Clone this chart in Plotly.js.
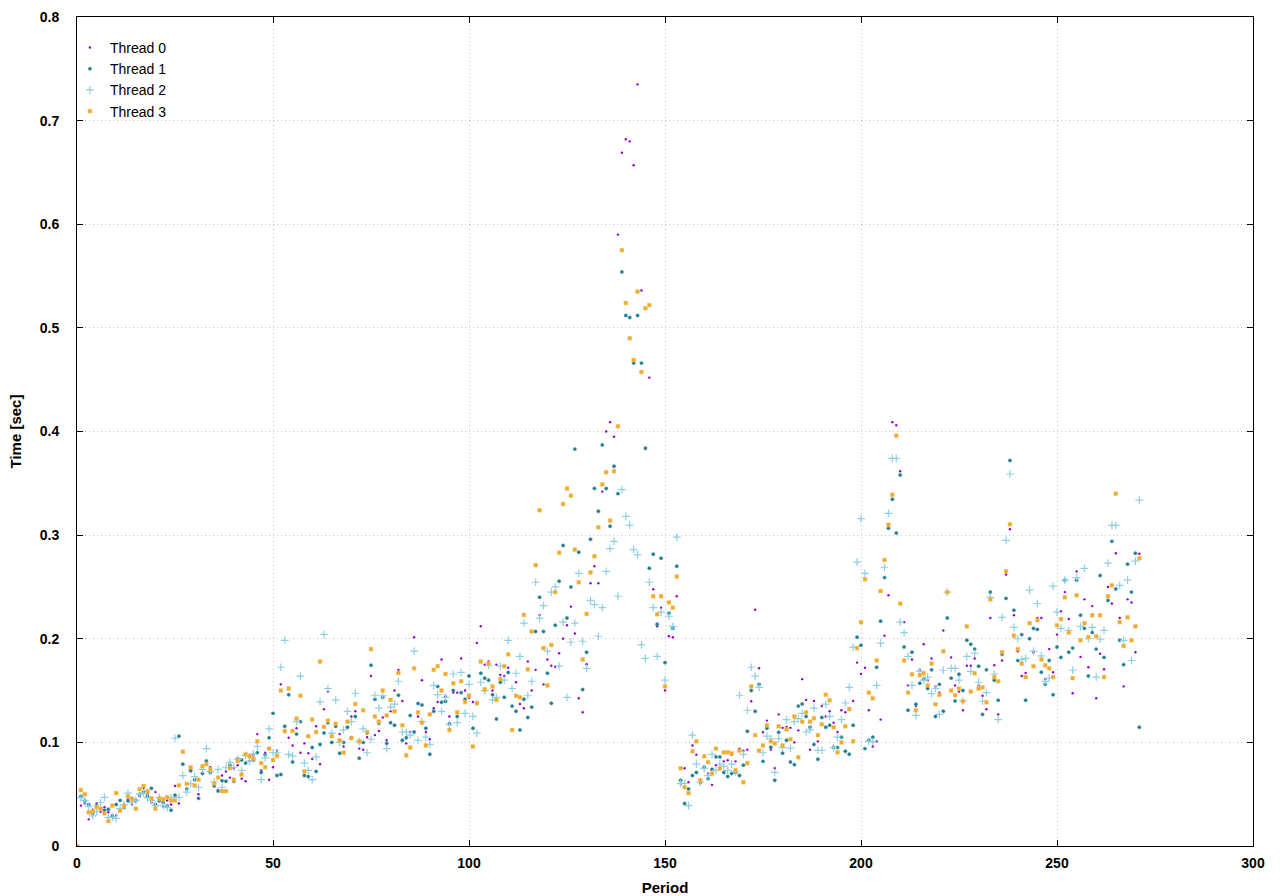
<!DOCTYPE html>
<html>
<head>
<meta charset="utf-8">
<script src="https://cdn.plot.ly/plotly-3.0.1.min.js"></script>
<style>html,body{margin:0;padding:0;background:#fff;}#chart{width:1280px;height:896px;}</style>
</head>
<body>
<div id="chart"></div>
<script>
var periods = [];
for (var i = 0; i <= 271; i++) periods.push(i);

var thread0 = [0,
.039,.041,.0257,.035,.041,.033,.0375,.0325,.030,.0295,
.034,.040,.045,.040,.044,.048,.056,.050,.042,.052,
.046,.038,.044,.040,.058,.041,.079,.060,.072,.064,
.050,.076,.080,.076,.0585,.054,.068,.072,.066,.075,
.078,.065,.0625,.082,.088,.108,.073,.090,.064,.076,
.092,.156,.110,.1045,.097,.1136,.090,.099,.0895,.084,
.1155,.079,.132,.149,.100,.117,.108,.096,.120,.125,
.130,.094,.093,.105,.164,.107,.111,.124,.102,.130,
.150,.170,.140,.099,.110,.2015,.125,.160,.110,.103,
.133,.139,.180,.1445,.125,.148,.148,.181,.150,.143,
.139,.196,.212,.175,.178,.150,.175,.165,.164,.172,
.135,.158,.137,.133,.178,.150,.170,.223,.156,.180,
.174,.173,.186,.200,.213,.231,.205,.1426,.129,.1754,
.2536,.270,.2536,.342,.400,.409,.395,.590,.669,.682,
.680,.657,.735,.536,.383,.452,.2478,.212,.230,.150,
.2024,.2015,.241,.060,.075,.0615,.097,.088,.0605,.075,
.070,.059,.078,.075,.0817,.0827,.088,.0817,.094,.092,
.093,.1397,.228,.1715,.1097,.121,.093,.075,.127,.114,
.115,.114,.100,.1116,.161,.141,.093,.140,.101,.135,
.125,.130,.119,.110,.131,.129,.133,.140,.177,.166,
.172,.131,.096,.101,.122,.203,.242,.409,.406,.3617,
.216,.155,.180,.135,.170,.1947,.160,.181,.154,.148,
.208,.220,.182,.155,.149,.131,.174,.174,.181,.155,
.145,.132,.220,.1744,.127,.179,.262,.3057,.2227,.188,
.164,.167,.200,.187,.220,.220,.161,.190,.1677,.204,
.2265,.245,.219,.1474,.265,.1825,.238,.1725,.2315,.1426,
.1855,.1705,.250,.234,.2825,.220,.154,.238,.235,.187,.282];

var thread1 = [0,
.048,.0435,.040,.0315,.039,.036,.0345,.0355,.0287,.040,
.044,.037,.0435,.046,.044,.050,.052,.048,.0557,.040,
.0435,.042,.039,.0345,.049,.106,.079,.055,.073,.064,
.046,.070,.082,.071,.058,.053,.063,.0625,.078,.0625,
.084,.083,.080,.087,.083,.090,.071,.088,.1045,.128,
.068,.069,.1155,.146,.081,.108,.120,.068,.067,.095,
.072,.098,.109,.119,.100,.1155,.0895,.100,.1146,.1045,
.125,.0847,.100,.109,.1744,.1416,.1185,.1435,.099,.119,
.1165,.1455,.102,.1045,.126,.110,.1375,.136,.1136,.0885,
.130,.154,.1387,.1397,.118,.150,.125,.148,.1416,.164,
.1136,.1375,.1667,.162,.160,.146,.1225,.158,.1435,.1675,
.135,.130,.112,.1416,.124,.134,.207,.240,.207,.1667,
.1377,.213,.2555,.290,.220,.250,.383,.2835,.151,.187,
.296,.345,.323,.387,.345,.3086,.3665,.340,.554,.512,
.510,.466,.512,.466,.384,.268,.2816,.214,.2777,.177,
.2246,.210,.270,.0634,.041,.055,.068,.071,.062,.076,
.065,.074,.086,.086,.071,.067,.070,.071,.068,.078,
.1107,.150,.130,.156,.0817,.1136,.0953,.0634,.1097,.0895,
.102,.081,.0785,.135,.137,.125,.1146,.098,.0837,.124,
.1146,.1165,.095,.095,.105,.0914,.0885,.1165,.2015,.1937,
.094,.102,.105,.1725,.217,.259,.3067,.3346,.302,.358,
.192,.131,.187,.1368,.157,.161,.152,.170,.125,.156,
.130,.220,.162,.140,.1657,.150,.1985,.1947,.190,.1735,
.127,.170,.245,.160,.1406,.185,.239,.372,.2275,.179,
.204,.1406,.200,.210,.209,.1677,.156,.179,.146,.192,
.182,.2565,.187,.191,.2565,.2227,.210,.164,.206,.190,
.261,.182,.237,.294,.248,.1985,.175,.272,.245,.2825,.1146];

var thread2 = [0,
.0465,.044,.038,.029,.0335,.042,.047,.0277,.0277,.0267,
.036,.040,.051,.042,.044,.050,.051,.0465,.044,.039,
.047,.039,.037,.047,.104,.047,.068,.052,.060,.067,
.0567,.074,.094,.072,.062,.074,.0567,.076,.0807,.076,
.0835,.073,.0875,.082,.089,.096,.064,.085,.113,.090,
.090,.1725,.1985,.0885,.087,.120,.164,.080,.073,.064,
.086,.139,.2043,.152,.109,.141,.100,.112,.130,.120,
.1474,.101,.113,.090,.103,.1455,.133,.145,.094,.134,
.137,.159,.110,.110,.107,.188,.102,.120,.105,.098,
.155,.146,.130,.1435,.117,.166,.119,.1675,.128,.156,
.125,.109,.158,.150,.1744,.141,.1435,.1735,.160,.1985,
.152,.1667,.183,.215,.145,.159,.2545,.220,.232,.188,
.245,.250,.1735,.216,.1435,.1966,.215,.263,.1976,.1715,
.237,.233,.2024,.230,.265,.287,.294,.241,.344,.318,
.3096,.286,.281,.194,.181,.2545,.230,.183,.2256,.160,
.2217,.212,.298,.0605,.0605,.039,.107,.079,.0615,.075,
.068,.0885,.073,.079,.077,.073,.079,.0715,.1455,.0885,
.131,.1725,.164,.153,.090,.106,.1035,.071,.1035,.095,
.122,.0945,.120,.123,.128,.110,.112,.133,.0924,.0924,
.137,.125,.095,.105,.122,.138,.153,.192,.274,.316,
.263,.101,.1005,.155,.1957,.269,.321,.374,.374,.216,
.206,.183,.155,.126,.1686,.160,.163,.147,.152,.127,
.1696,.245,.1715,.1715,.160,.140,.183,.1686,.186,.158,
.1397,.148,.240,.166,.122,.2207,.295,.359,.211,.200,
.180,.181,.247,.188,.234,.1835,.159,.162,.2507,.2256,
.210,.2565,.208,.1696,.259,.212,.268,.200,.211,.163,
.1995,.208,.273,.3095,.3095,.2516,.1985,.2565,.179,.275,.3337];

var thread3 = [0,
.054,.050,.0325,.0335,.0376,.036,.0315,.024,.039,.051,
.034,.0386,.048,.045,.036,.055,.058,.053,.046,.036,
.046,.045,.047,.044,.044,.0585,.091,.060,.076,.0585,
.064,.077,.079,.074,.0605,.066,.053,.053,.075,.064,
.082,.069,.0885,.0866,.0846,.101,.080,.076,.094,.083,
.087,.150,.111,.152,.111,.123,.145,.072,.106,.122,
.110,.178,.115,.121,.106,.118,.102,.090,.120,.104,
.137,.101,.131,.110,.190,.125,.120,.150,.126,.141,
.130,.167,.1165,.0875,.095,.1715,.129,.119,.097,.127,
.170,.1735,.150,.166,.112,.157,.129,.159,.139,.145,
.096,.138,.178,.151,.176,.154,.141,.161,.1735,.185,
.112,.145,.1435,.223,.1705,.207,.271,.324,.191,.155,
.194,.245,.283,.330,.345,.338,.286,.2545,.180,.224,
.264,.2796,.3076,.349,.3607,.314,.3617,.405,.575,.524,
.490,.469,.535,.4575,.519,.522,.241,.2236,.241,.154,
.235,.230,.260,.075,.0567,.051,.0914,.101,.0634,.0866,
.081,.070,.094,.075,.0904,.0904,.0894,.073,.092,.0615,
.080,.154,.107,.092,.097,.1165,.101,.099,.1155,.097,
.1126,.103,.125,.0856,.120,.129,.120,.1233,.107,.1175,
.146,.1406,.1146,.0904,.100,.1155,.132,.101,.191,.216,
.2574,.148,.1426,.179,.246,.276,.310,.339,.396,.234,
.179,.148,.1657,.131,.1648,.1667,.155,.176,.1368,.146,
.188,.245,.150,.1455,.152,.1397,.212,.149,.1667,.152,
.153,.1387,.238,.163,.159,.187,.265,.3105,.203,.190,
.176,.163,.215,.1735,.218,.180,.1744,.1715,.163,.213,
.219,.240,.206,.162,.242,.1985,.215,.2015,.2227,.2024,
.2227,.163,.241,.2516,.340,.216,.193,.2207,.1985,.212,.2777];

var seriesNames = ['Thread 0', 'Thread 1', 'Thread 2', 'Thread 3'];
var xTicks = [0, 50, 100, 150, 200, 250, 300];
var yTicks = [0, 0.1, 0.2, 0.3, 0.4, 0.5, 0.6, 0.7, 0.8];
var yTickText = ['0', '0.1', '0.2', '0.3', '0.4', '0.5', '0.6', '0.7', '0.8'];

var traces = [
  {x: periods, y: thread0, name: seriesNames[0], type: 'scatter', mode: 'markers',
   marker: {symbol: 'circle', size: 2.4, color: '#9400d3', line: {width: 0}}},
  {x: periods, y: thread1, name: seriesNames[1], type: 'scatter', mode: 'markers',
   marker: {symbol: 'circle', size: 3.4, color: '#1d7b8a', line: {width: 0.5, color: '#5aa5b2'}}},
  {x: periods, y: thread2, name: seriesNames[2], type: 'scatter', mode: 'markers',
   marker: {symbol: 'cross-thin-open', size: 5.5, color: '#8fcfe2', line: {width: 1.2, color: '#8fcfe2'}}},
  {x: periods, y: thread3, name: seriesNames[3], type: 'scatter', mode: 'markers',
   marker: {symbol: 'square', size: 3.8, color: '#eeaa2c', line: {width: 0.5, color: '#f4c468'}}}
];

var tickFont = {family: 'Liberation Sans, Arial, sans-serif', size: 14, color: '#000', weight: 'bold'};
var titleFont = {family: 'Liberation Sans, Arial, sans-serif', size: 15, color: '#000', weight: 'bold'};

var layout = {
  width: 1280, height: 896,
  margin: {l: 77, r: 27, t: 17, b: 50, pad: 0},
  paper_bgcolor: '#fff', plot_bgcolor: '#fff',
  showlegend: true,
  legend: {x: -0.006, y: 0.982, xanchor: 'left', yanchor: 'top', bgcolor: 'rgba(0,0,0,0)',
           font: {family: 'Liberation Sans, Arial, sans-serif', size: 14, color: '#000'},
           tracegroupgap: 0, itemsizing: 'trace', itemwidth: 30},
  xaxis: {range: [0, 300], tickvals: xTicks, ticktext: xTicks.map(String),
          showline: true, linecolor: '#000', linewidth: 1, mirror: 'ticks',
          ticks: 'inside', ticklen: 6, tickcolor: '#000', tickwidth: 1,
          showgrid: true, gridcolor: '#c4c4c4', griddash: '1px,3px', gridwidth: 1,
          zeroline: false, tickfont: tickFont, ticklabelstandoff: 4,
          title: {text: 'Period', font: titleFont, standoff: 12}},
  yaxis: {range: [0, 0.8], tickvals: yTicks, ticktext: yTickText,
          showline: true, linecolor: '#000', linewidth: 1, mirror: 'ticks',
          ticks: 'inside', ticklen: 6, tickcolor: '#000', tickwidth: 1,
          showgrid: true, gridcolor: '#c4c4c4', griddash: '1px,3px', gridwidth: 1,
          zeroline: false, tickfont: tickFont, ticklabelstandoff: 14,
          title: {text: 'Time [sec]', font: titleFont, standoff: 14}}
};

Plotly.newPlot('chart', traces, layout, {staticPlot: true, displayModeBar: false});
</script>
</body>
</html>
